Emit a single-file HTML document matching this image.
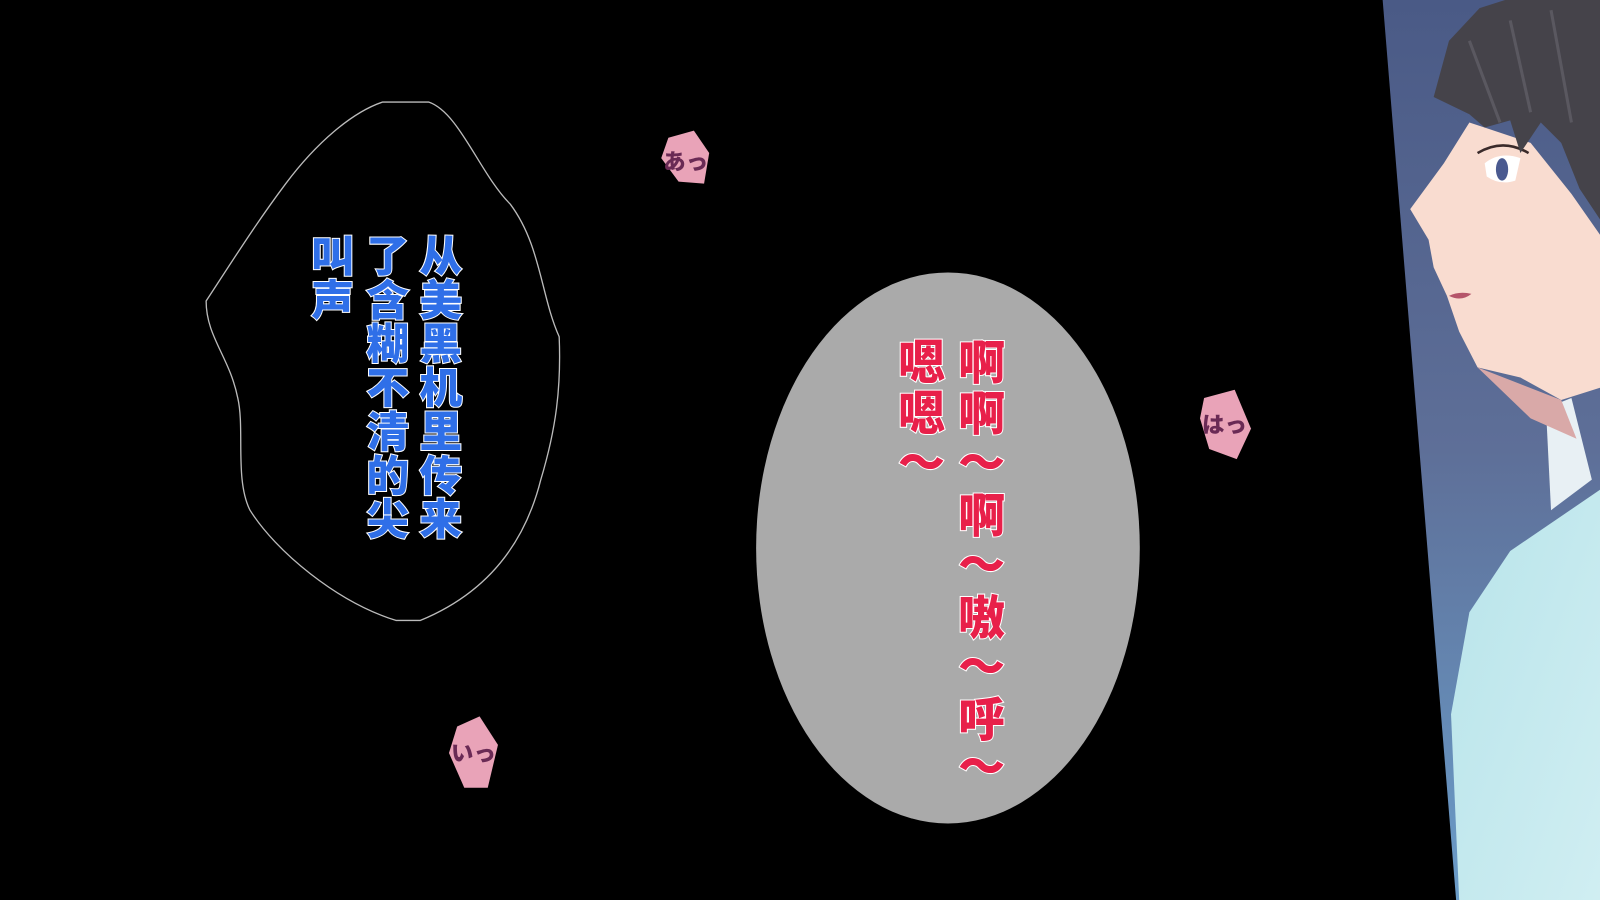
<!DOCTYPE html>
<html><head><meta charset="utf-8"><style>
html,body{margin:0;padding:0;background:#000;}
svg{display:block;}
.b{font-family:"Liberation Sans","Noto Sans CJK SC",sans-serif;font-weight:900;}
</style></head><body>
<svg width="1600" height="900" viewBox="0 0 1568 882" preserveAspectRatio="none" xmlns="http://www.w3.org/2000/svg">
<defs>
<linearGradient id="bg" x1="0" y1="0" x2="0" y2="1">
<stop offset="0" stop-color="#4a5a86"/><stop offset="0.5" stop-color="#5e6f98"/><stop offset="1" stop-color="#6a9cc8"/>
</linearGradient>
<linearGradient id="cl" x1="0" y1="0" x2="1" y2="1">
<stop offset="0" stop-color="#b8e4ea"/><stop offset="1" stop-color="#d0eef2"/>
</linearGradient>
</defs>
<rect width="1568" height="882" fill="#000"/>
<polygon points="1355,0 1568,0 1568,882 1427,882" fill="url(#bg)"/>
<polygon points="1430,882 1422,700 1440,600 1480,540 1568,480 1568,882" fill="url(#cl)"/>
<polygon points="1515,400 1540,390 1560,470 1520,500" fill="#e8f0f4"/>
<polygon points="1440,120 1415,160 1382,205 1400,235 1405,262 1418,290 1430,325 1448,360 1490,370 1530,392 1568,380 1568,230 1540,190 1500,140" fill="#f9dcd0"/>
<polygon points="1448,360 1530,392 1545,430 1500,410" fill="#d9a9a8"/>
<path d="M1420,290 q10,-5 22,-2 q-10,8 -22,2z" fill="#b5556a"/>
<path d="M1455,160 q15,-12 35,-5 l-5,22 q-15,5 -28,-4z" fill="#fff"/>
<ellipse cx="1472" cy="166" rx="6" ry="11" fill="#4a5a90"/>
<path d="M1448,150 q25,-15 50,0" stroke="#3a2a2a" stroke-width="2.5" fill="none"/>
<polygon points="1405,95 1420,40 1450,8 1475,0 1568,0 1568,215 1548,185 1530,140 1510,120 1490,150 1480,118 1455,125 1440,112" fill="#45434a"/>
<path d="M1440,40 L1470,120 M1480,20 L1500,110 M1520,10 L1540,120" stroke="#5a5860" stroke-width="3"/>
<path d="M375,100 L420,100 C450,110 470,170 500,200 C530,240 530,290 548,330 C550,380 545,420 530,470 C515,530 480,580 412,608 L388,608 C330,590 270,540 245,500 C230,470 240,420 233,390 C225,350 202,330 202,295 C225,260 250,220 280,180 C310,140 345,110 375,100Z" fill="none" stroke="#bbb" stroke-width="1.3"/>
<g class="b" font-size="42" fill="#2f6fe8" stroke="#fff" stroke-width="2" paint-order="stroke" text-anchor="middle">
<text x="432" y="266">从</text><text x="432" y="309">美</text><text x="432" y="352">黑</text><text x="432" y="395">机</text><text x="432" y="438">里</text><text x="432" y="481">传</text><text x="432" y="524">来</text>
<text x="380" y="266">了</text><text x="380" y="309">含</text><text x="380" y="352">糊</text><text x="380" y="395">不</text><text x="380" y="438">清</text><text x="380" y="481">的</text><text x="380" y="524">尖</text>
<text x="326" y="266">叫</text><text x="326" y="309">声</text>
</g>
<ellipse cx="929" cy="537" rx="188" ry="270" fill="#aaaaaa"/>
<g class="b" font-size="46" fill="#e8204a" stroke="#fff" stroke-width="2" paint-order="stroke" text-anchor="middle">
<text x="962" y="372">啊</text><text x="962" y="422">啊</text><text x="962" y="470">～</text><text x="962" y="522">啊</text><text x="962" y="570">～</text><text x="962" y="622">嗷</text><text x="962" y="670">～</text><text x="962" y="722">呼</text><text x="962" y="768">～</text>
<text x="903" y="372">嗯</text><text x="903" y="422">嗯</text><text x="903" y="470">～</text>
</g>
<polygon points="655,135 680,128 695,150 690,180 665,178 648,155" fill="#e9a3b8"/>
<text x="672" y="166" class="b" font-size="22" fill="#6a2a55" text-anchor="middle">あっ</text>
<polygon points="1180,390 1210,382 1226,420 1212,450 1185,440 1176,410" fill="#e9a3b8"/>
<text x="1200" y="424" class="b" font-size="22" fill="#6a2a55" text-anchor="middle">はっ</text>
<polygon points="448,712 470,702 488,730 478,772 455,772 440,738" fill="#e9a3b8"/>
<text x="464" y="746" class="b" font-size="22" fill="#6a2a55" text-anchor="middle">いっ</text>
</svg>
</body></html>
